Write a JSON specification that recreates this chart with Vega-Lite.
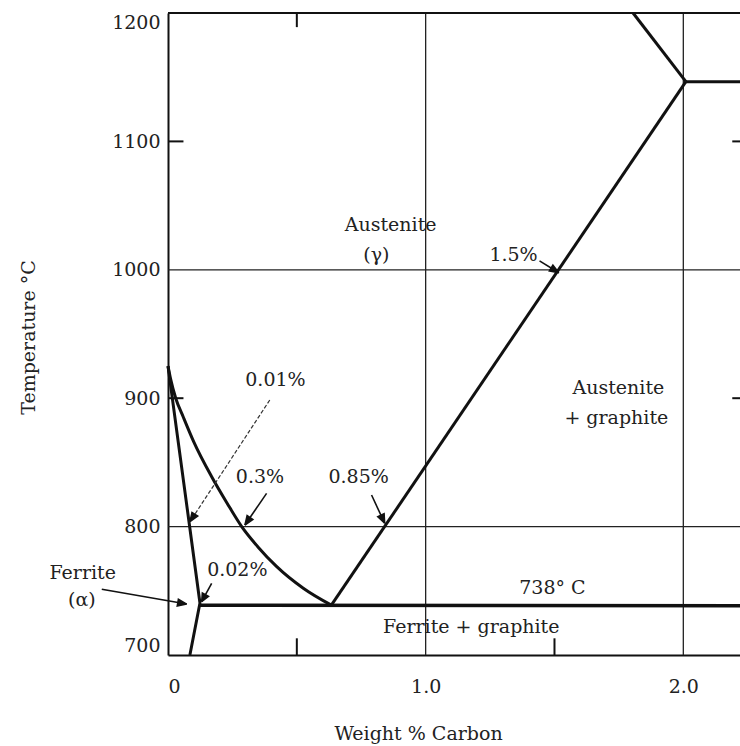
{
  "$schema": "https://vega.github.io/schema/vega-lite/v6.json",
  "width": 572,
  "height": 642,
  "autosize": {"type": "none"},
  "padding": {"left": 168, "top": 13, "right": 0, "bottom": 91},
  "background": "white",
  "config": {"view": {"stroke": null}, "font": "DejaVu Serif"},
  "datasets": {
    "grid": [
      {"x": 0, "x2": 2.22, "y": 800, "y2": 800},
      {"x": 0, "x2": 2.22, "y": 1000, "y2": 1000},
      {"x": 1, "x2": 1, "y": 700, "y2": 1200},
      {"x": 2, "x2": 2, "y": 700, "y2": 1200}
    ],
    "frame": [
      {"x": 0, "x2": 2.22, "y": 1200, "y2": 1200},
      {"x": 0, "x2": 0.06, "y": 900, "y2": 900},
      {"x": 0, "x2": 0.06, "y": 1100, "y2": 1100},
      {"x": 0.5, "x2": 0.5, "y": 700, "y2": 713},
      {"x": 1.5, "x2": 1.5, "y": 700, "y2": 713},
      {"x": 0.5, "x2": 0.5, "y": 1200, "y2": 1189},
      {"x": 2.19, "x2": 2.22, "y": 1100, "y2": 1100},
      {"x": 2.19, "x2": 2.22, "y": 900, "y2": 900}
    ],
    "curve": [
      {"i": 0, "x": 0, "y": 925},
      {"i": 1, "x": 0.01, "y": 915},
      {"i": 2, "x": 0.03, "y": 900},
      {"i": 3, "x": 0.06, "y": 885},
      {"i": 4, "x": 0.1, "y": 866},
      {"i": 5, "x": 0.169, "y": 839},
      {"i": 6, "x": 0.23, "y": 818},
      {"i": 7, "x": 0.286, "y": 800},
      {"i": 8, "x": 0.35, "y": 784},
      {"i": 9, "x": 0.421, "y": 769},
      {"i": 10, "x": 0.525, "y": 752},
      {"i": 11, "x": 0.634, "y": 738.8}
    ],
    "phase": [
      {"seg": "alpha", "i": 0, "x": 0, "y": 925},
      {"seg": "alpha", "i": 1, "x": 0.124, "y": 740.5},
      {"seg": "alpha", "i": 2, "x": 0.085, "y": 700},
      {"seg": "acm", "i": 0, "x": 0.634, "y": 738.8},
      {"seg": "acm", "i": 1, "x": 2.01, "y": 1146.5},
      {"seg": "eutectic", "i": 0, "x": 2.01, "y": 1146.5},
      {"seg": "eutectic", "i": 1, "x": 2.22, "y": 1146.5},
      {"seg": "liquidus", "i": 0, "x": 1.805, "y": 1200},
      {"seg": "liquidus", "i": 1, "x": 2.01, "y": 1146.5}
    ],
    "eutectoid": [
      {"i": 0, "x": 0.124, "y": 738.8},
      {"i": 1, "x": 2.22, "y": 738.3}
    ],
    "shafts": [
      {"id": "ferrite", "i": 0, "x": -0.257, "y": 751.2},
      {"id": "ferrite", "i": 1, "x": 0.0725, "y": 739.7},
      {"id": "p03", "i": 0, "x": 0.3826, "y": 825.9},
      {"id": "p03", "i": 1, "x": 0.2984, "y": 801.2},
      {"id": "p085", "i": 0, "x": 0.79, "y": 824.6},
      {"id": "p085", "i": 1, "x": 0.841, "y": 802.6},
      {"id": "p15", "i": 0, "x": 1.442, "y": 1006.9},
      {"id": "p15", "i": 1, "x": 1.5167, "y": 997.7},
      {"id": "p002", "i": 0, "x": 0.1694, "y": 755.8},
      {"id": "p002", "i": 1, "x": 0.1306, "y": 741.5}
    ],
    "dashed": [
      {"id": "p001", "i": 0, "x": 0.395, "y": 898.6},
      {"id": "p001", "i": 1, "x": 0.0853, "y": 803.8}
    ],
    "heads": [
      {"id": "ferrite", "i": 0, "x": 0.0725, "y": 739.7},
      {"id": "ferrite", "i": 1, "x": 0.0357, "y": 738.2},
      {"id": "ferrite", "i": 2, "x": 0.0403, "y": 743.5},
      {"id": "ferrite", "i": 3, "x": 0.0725, "y": 739.7},
      {"id": "p001", "i": 0, "x": 0.0853, "y": 803.8},
      {"id": "p001", "i": 1, "x": 0.093, "y": 811.1},
      {"id": "p001", "i": 2, "x": 0.1155, "y": 808.2},
      {"id": "p001", "i": 3, "x": 0.0853, "y": 803.8},
      {"id": "p03", "i": 0, "x": 0.2984, "y": 801.2},
      {"id": "p03", "i": 1, "x": 0.307, "y": 808.6},
      {"id": "p03", "i": 2, "x": 0.3295, "y": 805.5},
      {"id": "p03", "i": 3, "x": 0.2984, "y": 801.2},
      {"id": "p085", "i": 0, "x": 0.841, "y": 802.6},
      {"id": "p085", "i": 1, "x": 0.814, "y": 807.7},
      {"id": "p085", "i": 2, "x": 0.8388, "y": 810.0},
      {"id": "p085", "i": 3, "x": 0.841, "y": 802.6},
      {"id": "p15", "i": 0, "x": 1.5167, "y": 997.7},
      {"id": "p15", "i": 1, "x": 1.4798, "y": 999.1},
      {"id": "p15", "i": 2, "x": 1.4938, "y": 1003.7},
      {"id": "p15", "i": 3, "x": 1.5167, "y": 997.7},
      {"id": "p002", "i": 0, "x": 0.1306, "y": 741.5},
      {"id": "p002", "i": 1, "x": 0.1333, "y": 748.3},
      {"id": "p002", "i": 2, "x": 0.1574, "y": 745.6},
      {"id": "p002", "i": 3, "x": 0.1306, "y": 741.5}
    ],
    "labels": [
      {"x": 0.864, "y": 1034.9, "text": "Austenite"},
      {"x": 0.809, "y": 1011.5, "text": "(γ)"},
      {"x": 1.341, "y": 1011.5, "text": "1.5%"},
      {"x": 1.748, "y": 907.9, "text": "Austenite"},
      {"x": 1.74, "y": 884.6, "text": "+ graphite"},
      {"x": 0.417, "y": 914.2, "text": "0.01%"},
      {"x": 0.357, "y": 838.9, "text": "0.3%"},
      {"x": 0.74, "y": 838.9, "text": "0.85%"},
      {"x": 0.269, "y": 766.2, "text": "0.02%"},
      {"x": 1.492, "y": 751.9, "text": "738° C"},
      {"x": 1.177, "y": 721.6, "text": "Ferrite + graphite"},
      {"x": -0.331, "y": 763.6, "text": "Ferrite"},
      {"x": -0.334, "y": 742.8, "text": "(α)"}
    ]
  },
  "encoding": {
    "x": {
      "field": "x", "type": "quantitative",
      "scale": {"domain": [0, 2.22], "nice": false, "zero": false},
      "axis": {
        "title": "Weight % Carbon",
        "values": [0, 1, 2],
        "labelExpr": "datum.value == 0 ? '0' : format(datum.value, '.1f')",
        "grid": false, "ticks": false, "tickSize": 0,
        "domain": true, "domainColor": "#111", "domainWidth": 2,
        "labelFont": "DejaVu Serif", "labelFontSize": 19, "labelColor": "#222",
        "labelBaseline": "middle", "labelPadding": 31,
        "titleFont": "DejaVu Serif", "titleFontSize": 19, "titleFontWeight": "normal",
        "titleColor": "#222", "titleX": 250, "titleY": 78, "titleBaseline": "middle"
      }
    },
    "y": {
      "field": "y", "type": "quantitative",
      "scale": {"domain": [700, 1200], "nice": false, "zero": false},
      "axis": {
        "title": "Temperature °C",
        "values": [700, 800, 900, 1000, 1100, 1200],
        "format": "d",
        "grid": false, "ticks": false, "tickSize": 0,
        "domain": true, "domainColor": "#111", "domainWidth": 2,
        "labelFont": "DejaVu Serif", "labelFontSize": 19, "labelColor": "#222",
        "labelPadding": 8, "labelFlush": true,
        "titleFont": "DejaVu Serif", "titleFontSize": 19, "titleFontWeight": "normal",
        "titleColor": "#222", "titleX": -140, "titleY": 324, "titleBaseline": "middle"
      }
    }
  },
  "layer": [
    {
      "data": {"name": "grid"},
      "mark": {"type": "rule", "color": "#222", "strokeWidth": 1.3},
      "encoding": {"x2": {"field": "x2"}, "y2": {"field": "y2"}}
    },
    {
      "data": {"name": "frame"},
      "mark": {"type": "rule", "color": "#111", "strokeWidth": 2},
      "encoding": {"x2": {"field": "x2"}, "y2": {"field": "y2"}}
    },
    {
      "data": {"name": "curve"},
      "mark": {"type": "line", "color": "#111", "strokeWidth": 3, "interpolate": "monotone"},
      "encoding": {"order": {"field": "i"}}
    },
    {
      "data": {"name": "phase"},
      "mark": {"type": "line", "color": "#111", "strokeWidth": 3},
      "encoding": {"detail": {"field": "seg"}, "order": {"field": "i"}}
    },
    {
      "data": {"name": "eutectoid"},
      "mark": {"type": "line", "color": "#111", "strokeWidth": 3.5},
      "encoding": {"order": {"field": "i"}}
    },
    {
      "data": {"name": "shafts"},
      "mark": {"type": "line", "color": "#111", "strokeWidth": 1.6},
      "encoding": {"detail": {"field": "id"}, "order": {"field": "i"}}
    },
    {
      "data": {"name": "dashed"},
      "mark": {"type": "line", "color": "#333", "strokeWidth": 1.2, "strokeDash": [4, 2]},
      "encoding": {"detail": {"field": "id"}, "order": {"field": "i"}}
    },
    {
      "data": {"name": "heads"},
      "mark": {"type": "line", "color": "#111", "strokeWidth": 1.5, "fill": "#111"},
      "encoding": {"detail": {"field": "id"}, "order": {"field": "i"}}
    },
    {
      "data": {"name": "labels"},
      "mark": {"type": "text", "font": "DejaVu Serif", "fontSize": 19, "color": "#222", "align": "center", "baseline": "middle"},
      "encoding": {"text": {"field": "text"}}
    }
  ]
}
